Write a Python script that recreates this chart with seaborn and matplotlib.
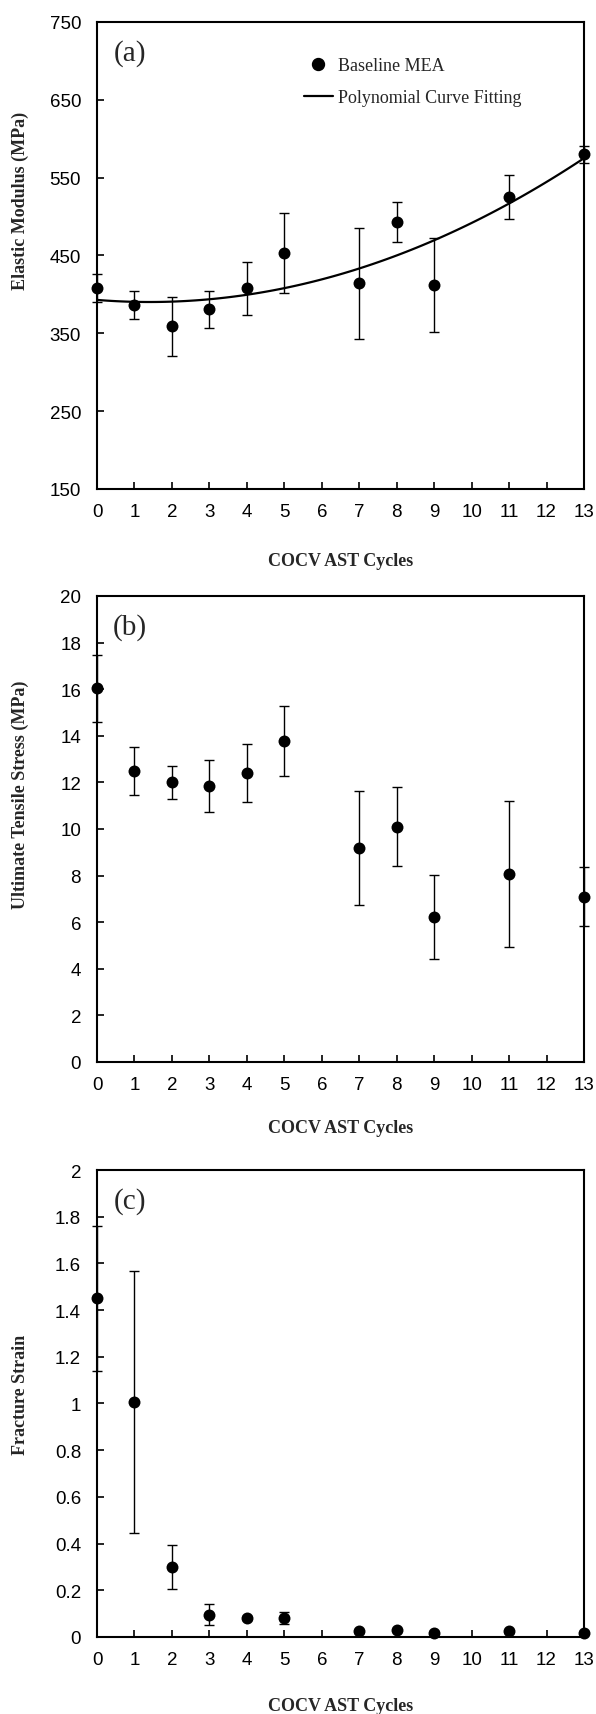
import numpy as np
import pandas as pd
import matplotlib
matplotlib.use("Agg")
import matplotlib.pyplot as plt
import seaborn as sns
from matplotlib.lines import Line2D
from matplotlib.ticker import FormatStrFormatter

# values
cycles = [0, 1, 2, 3, 4, 5, 7, 8, 9, 11, 13]
modulus = [408, 387, 359, 381, 408, 453, 414, 493, 412, 525, 580]
modulus_err = [18, 18, 38, 24, 34, 51, 71, 26, 60, 28, 11]
uts = [16.03, 12.49, 12.0, 11.83, 12.39, 13.79, 9.19, 10.1, 6.24, 8.05, 7.1]
uts_err = [1.45, 1.03, 0.7, 1.12, 1.25, 1.5, 2.45, 1.7, 1.8, 3.13, 1.27]
strain = [1.451, 1.007, 0.301, 0.096, 0.081, 0.081, 0.024, 0.029, 0.019, 0.024, 0.019]
strain_err = [0.31, 0.56, 0.095, 0.045, 0.01, 0.027, 0.005, 0.005, 0.005, 0.005, 0.005]

df = pd.DataFrame({'cycles': cycles, 'modulus': modulus, 'modulus_err': modulus_err,
                   'uts': uts, 'uts_err': uts_err, 'strain': strain, 'strain_err': strain_err})

sns.set_style('ticks')
plt.rcParams['font.family'] = ['Liberation Sans', 'DejaVu Sans']
plt.rcParams['axes.linewidth'] = 1.5
plt.rcParams['axes.edgecolor'] = 'black'

serif = ['Liberation Serif', 'DejaVu Serif']

fig = plt.figure(figsize=(5.96, 17.15), dpi=100)

# value column, error column, y range, y step, ylabel, ylabel y, xlabel y, tag, axes rect
panels = [
    ('modulus', 'modulus_err', (150, 750), 100, 'Elastic Modulus (MPa)', 0.62, -0.135, '(a)', [0.1628, 0.7143, 0.8171, 0.2723]),
    ('uts', 'uts_err', (0, 20), 2, 'Ultimate Tensile Stress (MPa)', 0.575, -0.122, '(b)', [0.1628, 0.3802, 0.8171, 0.2717]),
    ('strain', 'strain_err', (0, 2), 0.2, 'Fracture Strain', 0.52, -0.128, '(c)', [0.1628, 0.0449, 0.8171, 0.2723]),
]

for col, err, ylim, step, ylab, ylab_y, xlab_y, tag, rect in panels:
    ax = fig.add_axes(rect)

    eb = ax.errorbar(df['cycles'], df[col], yerr=df[err], fmt='none', ecolor='black',
                     elinewidth=1.0, capsize=3.5, capthick=1.0, zorder=2)
    for artist in eb.get_children():
        artist.set_clip_on(False)

    sns.scatterplot(data=df, x='cycles', y=col, ax=ax, color='black', s=74,
                    linewidth=0, zorder=3, clip_on=False, legend=False)

    if col == 'modulus':
        # 2nd order polynomial trend line
        sns.regplot(data=df, x='cycles', y=col, ax=ax, order=2, ci=None, scatter=False,
                    truncate=True, line_kws={'color': 'black', 'lw': 1.6, 'zorder': 2})
        handles = [Line2D([], [], marker='o', ls='none', color='black', markersize=8.6),
                   Line2D([], [], color='black', lw=1.6)]
        ax.legend(handles, ['Baseline MEA', 'Polynomial Curve Fitting'], loc='upper left',
                  bbox_to_anchor=(0.425, 0.925), frameon=False, borderpad=0, borderaxespad=0,
                  handlelength=1.6, handletextpad=0.3, labelspacing=0.85,
                  prop={'family': serif, 'size': 13})

    ax.set_xlim(0, 13)
    ax.set_ylim(*ylim)
    ax.set_xticks(range(0, 14))
    ax.set_yticks(np.arange(ylim[0], ylim[1] + step / 2, step))
    ax.yaxis.set_major_formatter(FormatStrFormatter('%g'))
    ax.tick_params(axis='both', direction='in', length=5, width=1.2, labelsize=13.5,
                   colors='black')
    ax.tick_params(axis='y', pad=11.5)
    ax.tick_params(axis='x', pad=10)
    for s in ax.spines.values():
        s.set_visible(True)
        s.set_linewidth(1.5)

    ax.set_xlabel('COCV AST Cycles', family=serif, fontweight='bold', fontsize=13)
    ax.xaxis.set_label_coords(0.5, xlab_y)
    ax.xaxis.label.set_va('top')
    ax.set_ylabel(ylab, family=serif, fontweight='bold', fontsize=13)
    ax.yaxis.set_label_coords(-0.14, ylab_y)

    ax.text(0.068, 0.934, tag, transform=ax.transAxes, family=serif, fontsize=21,
            ha='center', va='center')

fig.savefig('out.png', dpi=100)
